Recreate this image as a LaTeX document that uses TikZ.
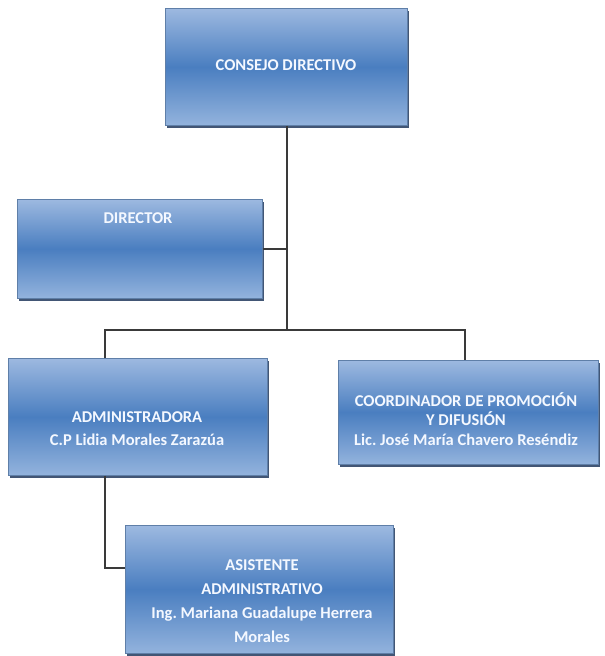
\documentclass[tikz,border=0pt]{standalone}
\usepackage{fontspec}
\setmainfont{Carlito}
\frenchspacing
\usetikzlibrary{calc,shadows}
\definecolor{boxtop}{HTML}{9DB9E0}
\definecolor{boxmid}{HTML}{4A7EC0}
\definecolor{boxbot}{HTML}{93B3DD}
\definecolor{boxedge}{HTML}{5F7FA8}
\definecolor{shadowc}{HTML}{2E4466}
\definecolor{linec}{HTML}{3A3A3A}
\definecolor{textc}{HTML}{F4F8FF}
\tikzset{
  orgbox/.style={rectangle, anchor=north west, draw=boxedge, line width=0.6pt,
    top color=boxtop, bottom color=boxbot, middle color=boxmid, inner sep=0pt,
    drop shadow={shadow xshift=1.5pt, shadow yshift=-2.5pt, fill=shadowc, opacity=0.9}},
  orgtext/.style={text=textc, font=\bfseries\fontsize{16.5}{23}\selectfont, align=center, inner sep=0pt},
  conn/.style={draw=linec, line width=1.4pt}
}
\begin{document}
\begin{tikzpicture}[x=1pt,y=-1pt]
\useasboundingbox (0,0) rectangle (605,656);
\fill[white] (0,0) rectangle (605,656);
% boxes
\node[orgbox, minimum width=242pt, minimum height=117pt] (cd) at (165,8) {};
\node[orgbox, minimum width=245pt, minimum height=99pt] (dir) at (17,199) {};
\node[orgbox, minimum width=259pt, minimum height=117pt] (adm) at (8,358) {};
\node[orgbox, minimum width=260pt, minimum height=104pt] (coo) at (338,360) {};
\node[orgbox, minimum width=268pt, minimum height=128pt] (asi) at (125,525) {};
% texts
\node[orgtext] (cdt) at (286,65) {CONSEJO DIRECTIVO};
\node[orgtext] (dirt) at (138,218) {DIRECTOR};
\node[orgtext] (admt) at (137,429) {ADMINISTRADORA\\C.P Lidia Morales Zarazúa};
\node[orgtext, font=\bfseries\fontsize{16.5}{19.5}\selectfont] (coot) at (466,419) {COORDINADOR DE PROMOCIÓN\\Y DIFUSIÓN\\Lic. José María Chavero Reséndiz};
\node[orgtext, font=\bfseries\fontsize{16.5}{24}\selectfont] (asit) at (262,601) {ASISTENTE\\ADMINISTRATIVO\\Ing. Mariana Guadalupe Herrera\\Morales};
% connectors
\coordinate (bus) at (287,330);
\coordinate (busL) at (105,330);
\coordinate (busR) at (465,330);
\coordinate (asiIn) at (125,568);
\draw[conn] (cd.south -| bus) -- (bus);
\draw[conn] (dir.east) -- (dir.east -| bus);
\draw[conn] (busL |- adm.north) -- (busL) -- (busR) -- (busR |- coo.north);
\draw[conn] (busL |- adm.south) -- (busL |- asiIn) -- (asiIn);
\end{tikzpicture}
\end{document}
